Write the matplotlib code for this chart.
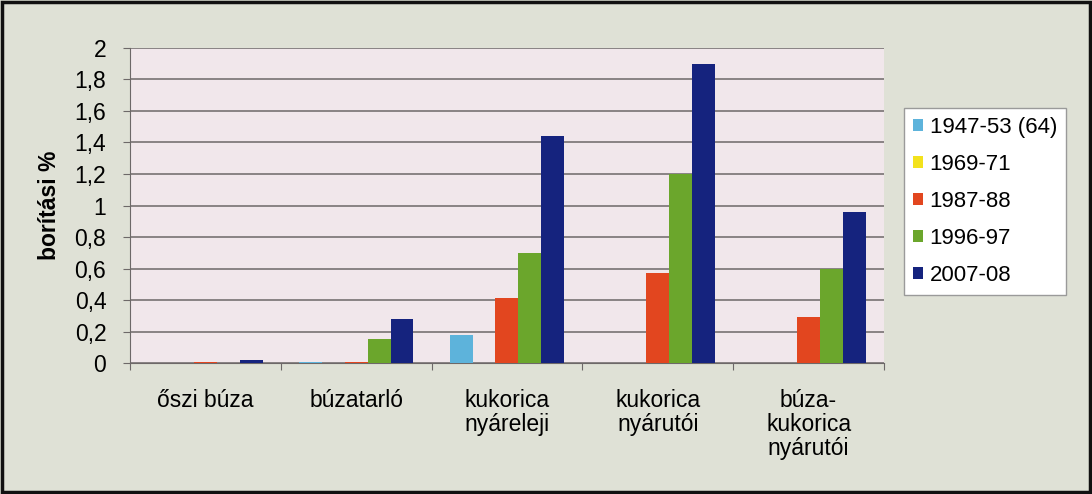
import numpy as np
import matplotlib.pyplot as plt
from matplotlib.patches import Rectangle

plt.rcParams['font.family'] = ['Liberation Sans', 'DejaVu Sans']

categories = ['őszi búza', 'búzatarló', 'kukorica\nnyáreleji', 'kukorica\nnyárutói', 'búza-\nkukorica\nnyárutói']
series = ['1947-53 (64)', '1969-71', '1987-88', '1996-97', '2007-08']
v1947 = [0.0, 0.01, 0.18, 0.0, 0.003]
v1969 = [0.0, 0.0, 0.0, 0.0, 0.0]
v1987 = [0.01, 0.01, 0.41, 0.57, 0.29]
v1996 = [0.0, 0.15, 0.70, 1.20, 0.60]
v2007 = [0.02, 0.28, 1.44, 1.90, 0.96]
values = [v1947, v1969, v1987, v1996, v2007]
colors = ['#5db3db', '#f3e21c', '#e2461f', '#6ba62c', '#15237e']
yticks = [0, 0.2, 0.4, 0.6, 0.8, 1, 1.2, 1.4, 1.6, 1.8, 2]

fig = plt.figure(figsize=(10.92, 4.94), dpi=100)
fig.patch.set_facecolor('#dfe1d6')
ax = fig.add_axes([0.119, 0.265, 0.6905, 0.638])
ax.set_facecolor('#f1e7eb')

x = np.arange(len(categories))
w = 0.152
for i, (vals, lab, c) in enumerate(zip(values, series, colors)):
    ax.bar(x + (i - 2) * w, vals, w, color=c, label=lab, zorder=3)

fs = 16.5
ax.set_xlim(-0.5, len(categories) - 0.5)
ax.set_ylim(0, 2)
ax.set_yticks(yticks)
ax.set_yticklabels([('%g' % t).replace('.', ',') for t in yticks], fontsize=fs)
ax.yaxis.grid(True, color='#6d6868', linewidth=1.1, zorder=0)
ax.set_xticks(np.arange(len(categories) + 1) - 0.5)
ax.set_xticklabels([])
ax.set_xticks(x, minor=True)
ax.set_xticklabels(categories, minor=True, fontsize=fs, linespacing=1.04, va='top')
ax.tick_params(axis='x', which='minor', length=0, pad=19)
ax.tick_params(axis='x', which='major', length=5, color='#6d6868')
ax.tick_params(axis='y', length=5, color='#6d6868', pad=12)
for s in ['top', 'right']:
    ax.spines[s].set_visible(False)
for s in ['left', 'bottom']:
    ax.spines[s].set_color('#6d6868')
ax.set_ylabel('borítási %', fontsize=fs, fontweight='bold', labelpad=10)

leg = fig.legend(loc='upper left', bbox_to_anchor=(0.828, 0.781), fontsize=16,
                 handlelength=0.45, handleheight=0.45, handletextpad=0.3,
                 labelspacing=0.72, borderpad=0.4, borderaxespad=0, fancybox=False,
                 edgecolor='#9a9a9a', facecolor='white', framealpha=1)

fig.patches.append(Rectangle((0.002, 0.004), 0.996, 0.992, transform=fig.transFigure,
                             fill=False, edgecolor='#111111', linewidth=2.5))

fig.savefig('out.png', dpi=100, facecolor=fig.get_facecolor())
